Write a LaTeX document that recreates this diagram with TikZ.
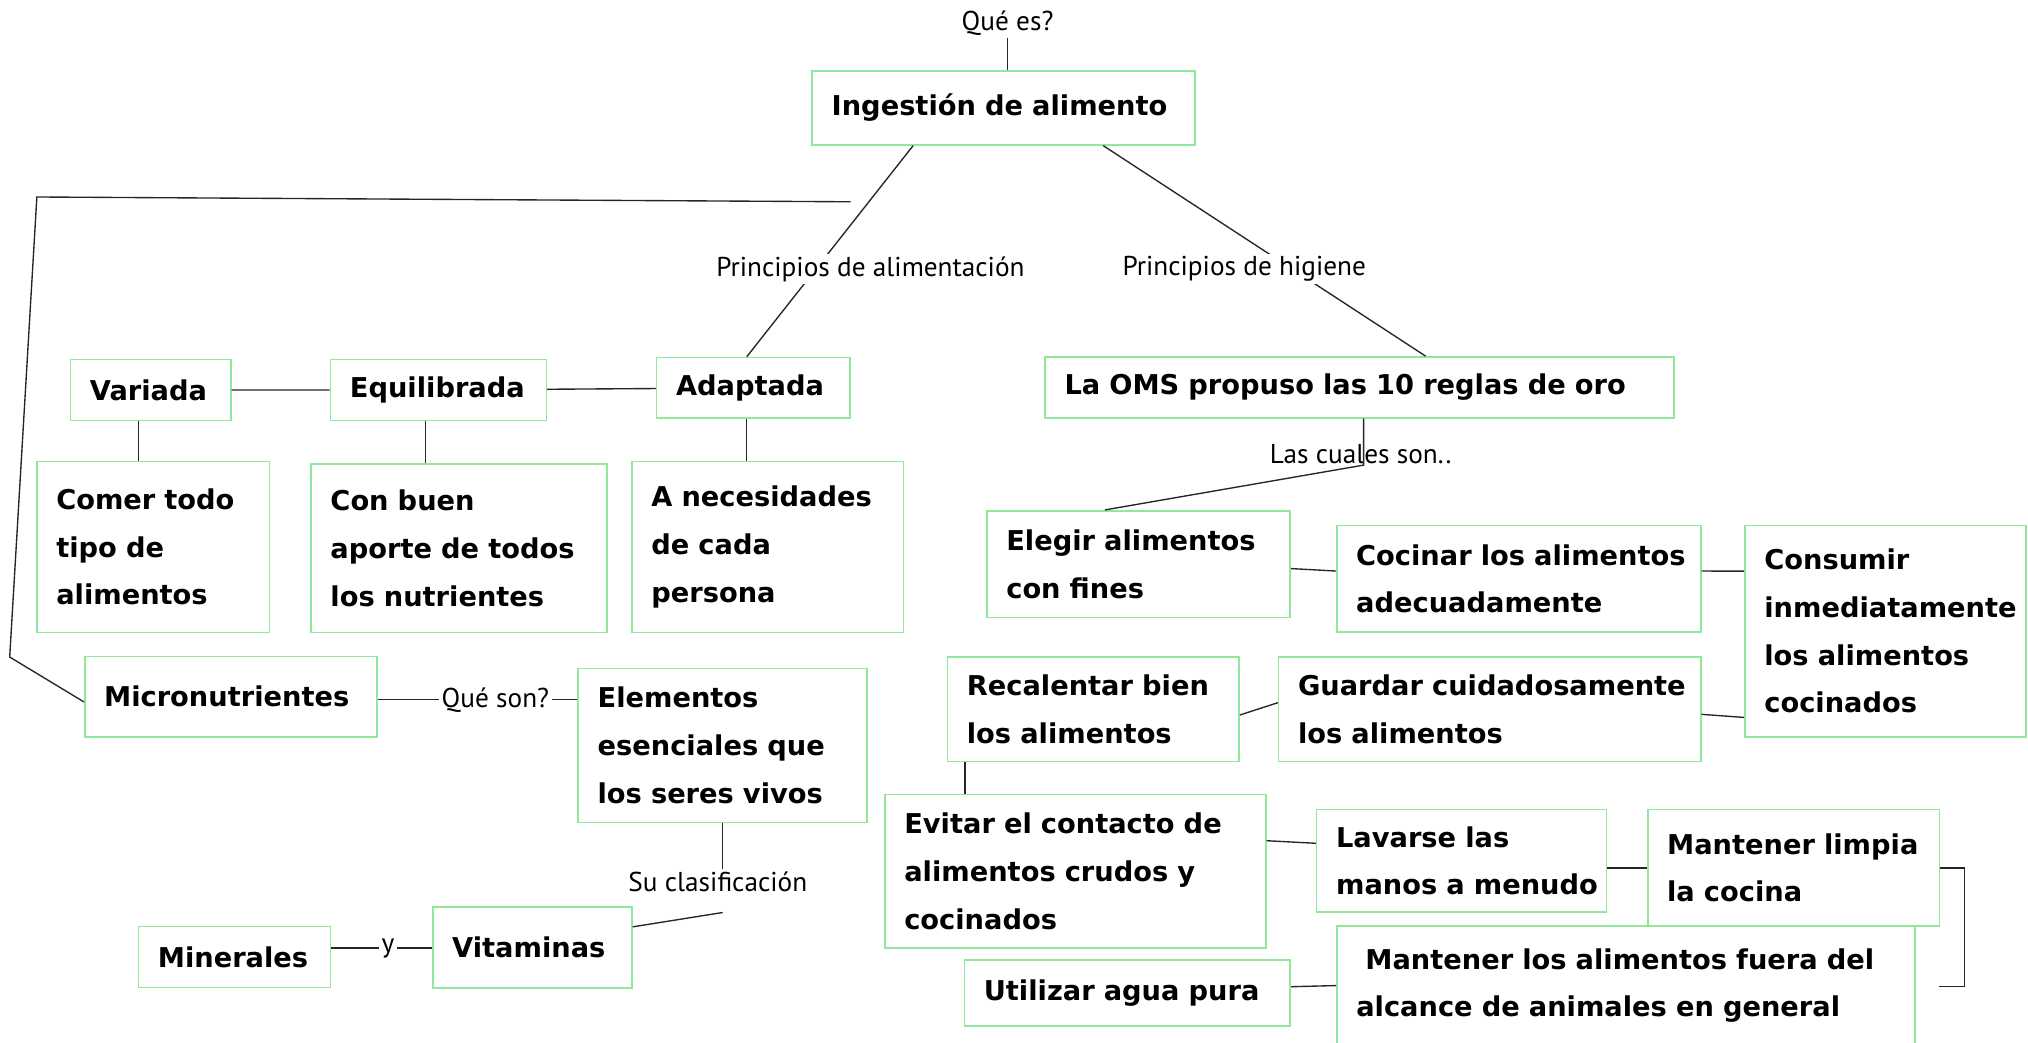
\documentclass[tikz,border=0pt]{standalone}
\usepackage{fontspec}
\setmainfont{DejaVu Sans}
\newfontfamily\lblfont{PT Sans}
\usetikzlibrary{calc}
\definecolor{boxgreen}{RGB}{144,232,152}
\hyphenpenalty=10000
\exhyphenpenalty=10000
\tikzset{%
  base/.style = {rectangle, draw=boxgreen, line width=0.7pt, fill=white,
                 inner xsep=0.3cm, inner ysep=0pt, align=left,
                 font=\fontsize{12}{21}\selectfont\bfseries},
  box/.style 2 args = {base, text width=#1, minimum height=#2},
  note/.style = {font=\lblfont\fontsize{12}{14}\selectfont, inner sep=1pt},
  conn/.style = {draw=black!85, line width=0.6pt},
}
\begin{document}
\begin{tikzpicture}[x=0.02cm, y=-0.02cm]
  \useasboundingbox (0,0) rectangle (1568,806);

  % Ingestion y principios
  \node (onIng)   [box={5.32cm}{1.14cm}] at (776,83.5)    {Ingestión~de~alimento};
  \node (onVar)   [box={1.88cm}{0.94cm}] at (116.5,301.5) {Variada};
  \node (onEqui)  [box={2.74cm}{0.94cm}] at (339,301.5)   {Equilibrada};
  \node (onAdap)  [box={2.39cm}{0.94cm}] at (582.4,299.9) {Adaptada};
  \node (onOMS)   [box={9.13cm}{0.94cm}] at (1051.3,299.5) {La~OMS~propuso~las~10~reglas~de~oro};
  \node (onComer) [box={3.0cm}{2.64cm}]  at (118.5,422.9) {Comer todo\\ tipo de\\ alimentos};
  \node (onConb)  [box={3.98cm}{2.6cm}]  at (355,423.9)   {Con buen\\ aporte~de~todos\\ los~nutrientes};
  \node (onAnec)  [box={3.6cm}{2.64cm}]  at (593.6,422.9) {A~necesidades\\ de cada\\ persona};

  % Micronutrientes
  \node (onMic)   [box={3.92cm}{1.24cm}] at (178.5,538.7) {Micronutrientes};
  \node (onElem)  [box={3.87cm}{2.38cm}] at (558.8,576.4) {Elementos\\ esenciales~que\\ los~seres~vivos};
  \node (onVit)   [box={2.48cm}{1.25cm}] at (411.6,732.6) {Vitaminas};
  \node (onMin)   [box={2.37cm}{0.94cm}] at (181.3,739.9) {Minerales};

  % Reglas de oro
  \node (onEleg)  [box={4.09cm}{1.65cm}] at (880.3,436.1)  {Elegir~alimentos\\ con fines};
  \node (onCoc)   [box={5.03cm}{1.65cm}] at (1174.3,447.5) {Cocinar~los~alimentos\\ adecuadamente};
  \node (onCons)  [box={3.75cm}{3.27cm}] at (1457.9,487.9) {Consumir\\ inmediatamente\\ los~alimentos\\ cocinados};
  \node (onRecal) [box={3.91cm}{1.62cm}] at (845.3,548.3)  {Recalentar~bien\\ los~alimentos};
  \node (onGuard) [box={5.93cm}{1.62cm}] at (1151.8,548.3) {Guardar~cuidadosamente\\ los~alimentos};
  \node (onEvit)  [box={5.29cm}{2.37cm}] at (831.4,673.6)  {Evitar~el~contacto~de\\ alimentos~crudos~y\\ cocinados};
  \node (onLav)   [box={3.88cm}{1.58cm}] at (1130,665.5)   {Lavarse~las\\ manos~a~menudo};
  \node (onMlim)  [box={3.91cm}{1.8cm}]  at (1386.7,671)   {Mantener~limpia\\ la~cocina};
  \node (onMla)   [box={8.34cm}{1.84cm}] at (1257.1,762)   {\hspace*{4pt}Mantener~los~alimentos~fuera~del\\ alcance~de~animales~en~general};
  \node (onUtil)  [box={4.44cm}{1.02cm}] at (871.6,767.9)  {Utilizar~agua~pura};

  % etiquetas
  \node (lbQue)  [note] at (779,18)    {Qué es?};
  \node (lbCual) [note] at (1052,351)  {Las cuales son..};
  \node (lbQson) [note] at (383,541)   {Qué son?};
  \node (lbSu)   [note] at (555,682)   {Su clasificación};
  \node (lbY)    [note] at (300,733)   {y};

  \draw[conn] (lbQue.south) -- (lbQue.south |- onIng.north);
  \draw[conn] ($(onIng.south)+(-70,0)$) -- ($(onAdap.north)+(-5,0)$);
  \draw[conn] ($(onIng.south)+(77,0)$) -- ($(onOMS.north)+(51,0)$);
  \coordinate (cnOMS) at ($(onOMS.south)+(3,36)$);
  \draw[conn] (onOMS.south -| cnOMS) -- (cnOMS) -- ($(onEleg.north)+(-26,0)$);

  \draw[conn] (onVar) -- (onEqui) -- (onAdap);
  \draw[conn] ($(onVar.south)+(-9.5,0)$) -- ($(onComer.north)+(-11.5,0)$);
  \draw[conn] ($(onEqui.south)+(-10,0)$) -- ($(onConb.north)+(-26,0)$);
  \draw[conn] ($(onAdap.south)+(-5.4,0)$) -- ($(onAnec.north)+(-16.6,0)$);

  \coordinate (cnMicA) at (7.5,508);
  \coordinate (cnMicB) at (28.5,152.3);
  \coordinate (cnMicC) at (657.6,156);
  \draw[conn] ($(onMic.west)+(0,4)$) -- (cnMicA) -- (cnMicB) -- (cnMicC);
  \draw[conn] (lbQson -| onMic.east) -- (lbQson.west);
  \draw[conn] (lbQson.east) -- (lbQson -| onElem.west);
  \draw[conn] (onElem.south) -- (onElem.south |- lbSu.north);
  \draw[conn] ($(onElem.south)+(0,69)$) -- ($(onVit.east)+(0,-16)$);
  \draw[conn] (lbY -| onMin.east) -- (lbY.west);
  \draw[conn] (lbY.east) -- (lbY -| onVit.west);

  \draw[conn] ($(onEleg.east)+(0,3.5)$) -- ($(onCoc.west)+(0,-6)$);
  \draw[conn] ($(onCoc.east)+(0,-6)$) -- ($(onCons.west)+(0,-46.3)$);
  \draw[conn] ($(onGuard.east)+(0,4)$) -- ($(onCons.west)+(0,66.8)$);
  \draw[conn] ($(onRecal.east)+(0,4.5)$) -- ($(onGuard.west)+(0,-5)$);
  \draw[conn] ($(onRecal.south)+(-99.3,0)$) -- ($(onEvit.north)+(-85.4,0)$);
  \draw[conn] ($(onEvit.east)+(0,-23.6)$) -- ($(onLav.west)+(0,-13.5)$);
  \draw[conn] (onMlim.west -| onLav.east) -- (onMlim.west);
  \coordinate (cnBrk) at (1499.4,762.8);
  \draw[conn] (onMlim.east) -- ++(19,0) |- (cnBrk);
  \draw[conn] ($(onUtil.east)+(0,-5)$) -- (onMla.west);

  % etiquetas sobre las lineas
  \node (lbAlim) [note, fill=white] at (673,208) {Principios de alimentación};
  \node (lbHig)  [note, fill=white] at (962,208) {Principios de higiene};
\end{tikzpicture}
\end{document}
